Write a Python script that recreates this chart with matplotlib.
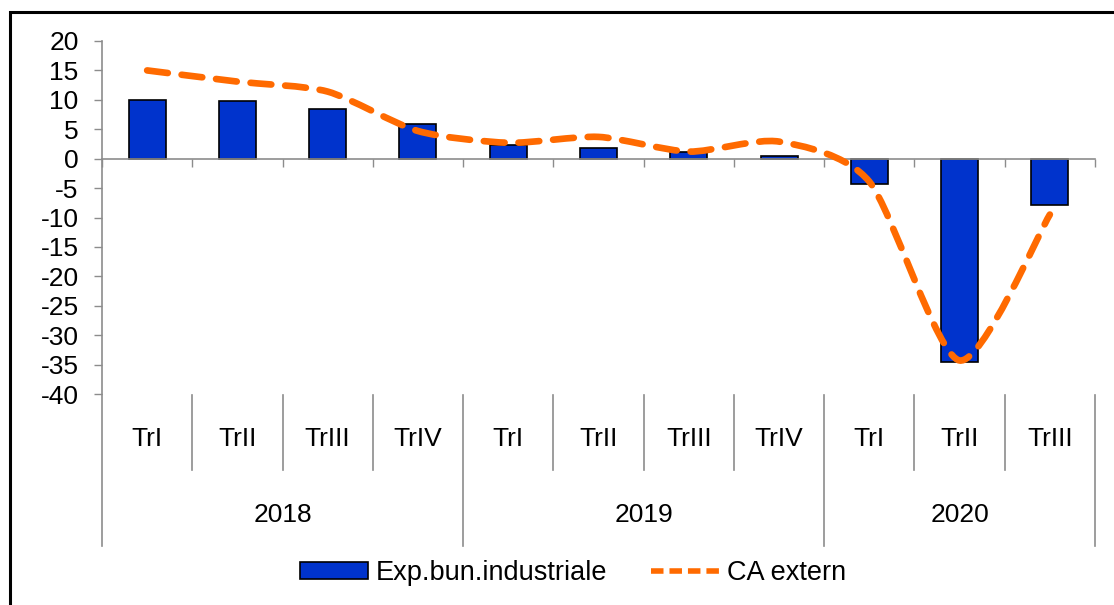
import numpy as np
import matplotlib
matplotlib.use("Agg")
import matplotlib.pyplot as plt
from matplotlib.path import Path
from matplotlib.patches import PathPatch, Patch, Rectangle
from matplotlib.lines import Line2D
import matplotlib.transforms as mtransforms

plt.rcParams['font.family'] = ['Liberation Sans', 'DejaVu Sans']
plt.rcParams['lines.scale_dashes'] = False
plt.rcParams['axes.unicode_minus'] = False

# data
quarters = ['TrI', 'TrII', 'TrIII', 'TrIV', 'TrI', 'TrII', 'TrIII', 'TrIV', 'TrI', 'TrII', 'TrIII']
years = ['2018', '2019', '2020']
quarters_per_year = [4, 4, 3]
exp_bun = [10.0, 9.8, 8.4, 5.9, 2.4, 1.8, 1.2, 0.4, -4.3, -34.6, -7.9]
ca_extern = [15.0, 13.1, 11.4, 4.7, 2.7, 3.7, 1.2, 2.9, -3.9, -34.3, -9.5]

BLUE = '#0033CC'
ORANGE = '#FF6A00'
GRAY = '#8c8c8c'
FS = 19


def smooth_path(xs, ys, k=1 / 8.0):
    # smoothed line like Excel: cubic Bezier through every point
    pts = np.column_stack([xs, ys]).astype(float)
    n = len(pts)
    verts = [pts[0]]
    codes = [Path.MOVETO]
    for i in range(n - 1):
        p0 = pts[max(i - 1, 0)]
        p1 = pts[i]
        p2 = pts[i + 1]
        p3 = pts[min(i + 2, n - 1)]
        c1 = p1 + (p2 - p0) * k
        c2 = p2 - (p3 - p1) * k
        verts += [c1, c2, p2]
        codes += [Path.CURVE4] * 3
    return Path(verts, codes)


fig = plt.figure(figsize=(11.14, 6.05), dpi=100)
ax = fig.add_axes([102 / 1114, 1 - 394 / 605, (1095 - 102) / 1114, (394 - 41) / 605])

x = np.arange(len(quarters))
ax.bar(x, exp_bun, width=0.41, color=BLUE, edgecolor='black', linewidth=1.2, zorder=2)

dash = (0, (15, 10))
patch = PathPatch(smooth_path(x, ca_extern), fill=False, edgecolor=ORANGE, linewidth=4.8,
                  linestyle=dash, capstyle='round', zorder=3)
ax.add_patch(patch)

ax.set_xlim(-0.5, len(quarters) - 0.5)
ax.set_ylim(-40, 20)
ax.set_yticks(np.arange(-40, 21, 5))
ax.tick_params(axis='y', direction='out', length=5.8, width=1, color=GRAY, labelsize=FS, pad=11)

for s in ['top', 'right']:
    ax.spines[s].set_visible(False)
ax.spines['left'].set_color(GRAY)
ax.spines['left'].set_linewidth(1.2)
ax.spines['bottom'].set_position(('data', 0))
ax.spines['bottom'].set_color(GRAY)
ax.spines['bottom'].set_linewidth(1.2)
ax.set_xticks(np.arange(-0.5, len(quarters), 1.0))
ax.set_xticklabels([])
ax.tick_params(axis='x', direction='out', length=5.8, width=1, color=GRAY)

# multi-level category labels below the plot
trans = mtransforms.blended_transform_factory(ax.transData, ax.transAxes)
ah = 394 - 41
q_bot = -(470 - 394) / ah
y_bot = -(546 - 394) / ah
q_lab = -(439 - 394) / ah
y_lab = -(515 - 394) / ah

for i, q in enumerate(quarters):
    ax.text(i, q_lab, q, transform=trans, ha='center', va='center', fontsize=FS)

bounds = np.concatenate([[0], np.cumsum(quarters_per_year)]) - 0.5
for k in range(len(quarters) + 1):
    xs = k - 0.5
    bottom = y_bot if xs in bounds else q_bot
    ax.add_line(Line2D([xs, xs], [-0.003, bottom], transform=trans, color=GRAY,
                       linewidth=1.2, clip_on=False))
for j, yr in enumerate(years):
    mid = (bounds[j] + bounds[j + 1]) / 2
    ax.text(mid, y_lab, yr, transform=trans, ha='center', va='center', fontsize=FS)

# legend
handles = [Patch(facecolor=BLUE, edgecolor='black', linewidth=1.2),
           Line2D([0], [0], color=ORANGE, linewidth=4, linestyle=(0, (9, 4.3)), dash_capstyle='butt')]
fig.legend(handles, ['Exp.bun.industriale', 'CA extern'], loc='center',
           bbox_to_anchor=(573 / 1114, 1 - 573 / 605), ncol=2, frameon=False, fontsize=19.5,
           handlelength=2.5, handleheight=0.55, handletextpad=0.3, columnspacing=1.6)

# chart border (cropped on the right and bottom)
fig.patches.append(Rectangle((10 / 1114, -0.2), 1.5, 1.2 - 12 / 605, transform=fig.transFigure,
                             fill=False, edgecolor='black', linewidth=2.2, zorder=10))

fig.savefig('out.png', dpi=100)
